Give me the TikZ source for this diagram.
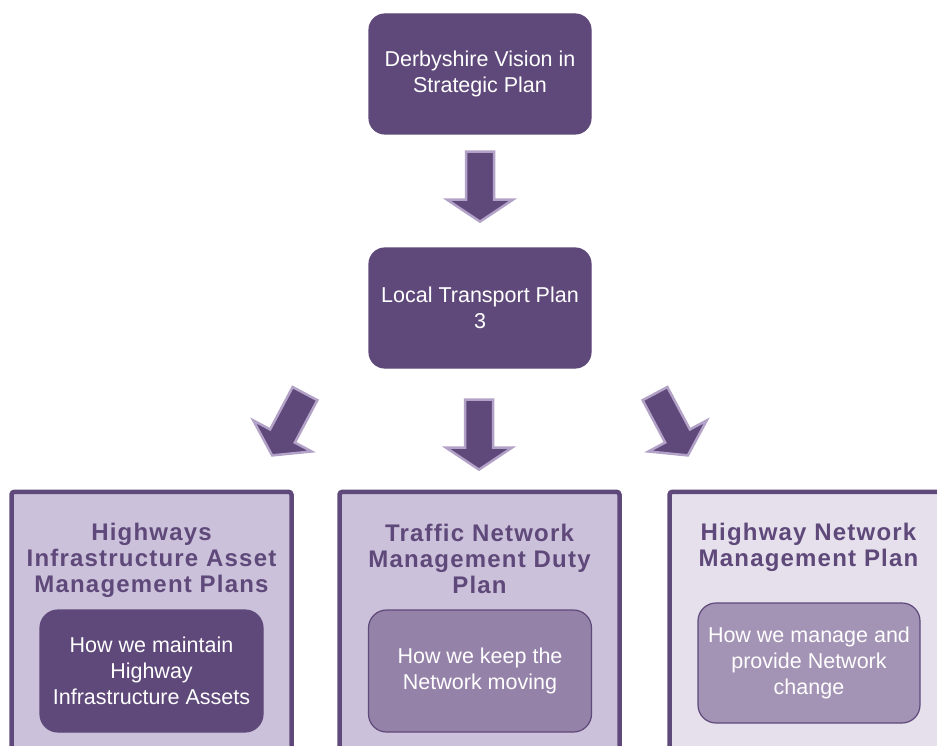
\documentclass[tikz,border=0pt]{standalone}
\usepackage{fontspec}
\setmainfont{Liberation Sans}
\newfontfamily\headfont{Liberation Sans}[LetterSpace=5]
\usetikzlibrary{positioning, calc}

\definecolor{plumdark}{HTML}{5F497A}
\definecolor{plumlight}{HTML}{CCC1DA}
\definecolor{plumpale}{HTML}{E5E0EC}
\definecolor{plummid}{HTML}{9582A9}
\definecolor{plumsoft}{HTML}{A393B5}
\definecolor{plumedge}{HTML}{B3A2C7}

\begin{document}
\begin{tikzpicture}[x=1pt,y=1pt,node distance=234pt,on grid,
	plan/.style={rectangle, rounded corners=16pt, fill=plumdark, draw=plumdark, line width=1.2pt, text=white, minimum width=222pt, minimum height=120pt, align=center, font=\fontsize{21.5}{26}\selectfont},
	panel/.style={rectangle, rounded corners=3pt, draw=plumdark, line width=4.5pt, fill=plumlight, minimum width=280pt, minimum height=340pt, anchor=north},
	heading/.style={text=plumdark, align=center, font=\headfont\bfseries\fontsize{24}{26}\selectfont},
	role/.style={plan, rounded corners=18pt, minimum width=223pt, minimum height=122pt},
	blockarrow/.pic={\path [fill=plumdark, draw=plumedge, line width=2.5pt] (-14,0) -- (-14,-48) -- (-33,-48) -- (0,-70) -- (33,-48) -- (14,-48) -- (14,0) -- cycle;}]
	
	\useasboundingbox (0,-746) rectangle (937,0);
	\clip (0,-746) rectangle (937,0);
	
	\node (vision) [plan] at (480,-74) {Derbyshire Vision in\\Strategic Plan};
	\node (ltp) [plan, below=of vision] {Local Transport Plan\\3};
	
	% the three plans
	\node (lpanel) [panel] at (151.5,-489.5) {};
	\node (mpanel) [panel] at (479.5,-489.5) {};
	\node (rpanel) [panel, fill=plumpale] at (809.5,-489.5) {};
	
	\node (ltitle) [heading] at ($(lpanel.north)+(0,-71)$) {Highways\\Infrastructure Asset\\Management Plans};
	\node (mtitle) [heading] at ($(mpanel.north)+(0,-69)$) {Traffic Network\\Management Duty\\Plan};
	\node (rtitle) [heading] at ($(rpanel.north)+(-1,-58)$) {Highway Network\\Management Plan};
	
	\node (lrole) [role] at ($(lpanel.north)+(0,-181.5)$) {How we maintain\\Highway\\Infrastructure Assets};
	\node (mrole) [role, fill=plummid] at ($(mpanel.north)+(0.5,-181.5)$) {How we keep the\\Network moving};
	\node (rrole) [role, fill=plumsoft, minimum width=222pt, minimum height=120pt] at ($(rpanel.north)+(-0.5,-173.5)$) {How we manage and\\provide Network\\change};
	
	% arrows
	\pic at ($(vision.south)+(0,-17)$) {blockarrow};
	\pic at ($(ltp.south)+(-1,-31)$) {blockarrow};
	\pic [rotate=-28] at ($(ltp.south)+(-175,-25)$) {blockarrow};
	\pic [rotate=28] at ($(ltp.south)+(175,-25)$) {blockarrow};
	
\end{tikzpicture}
\end{document}
